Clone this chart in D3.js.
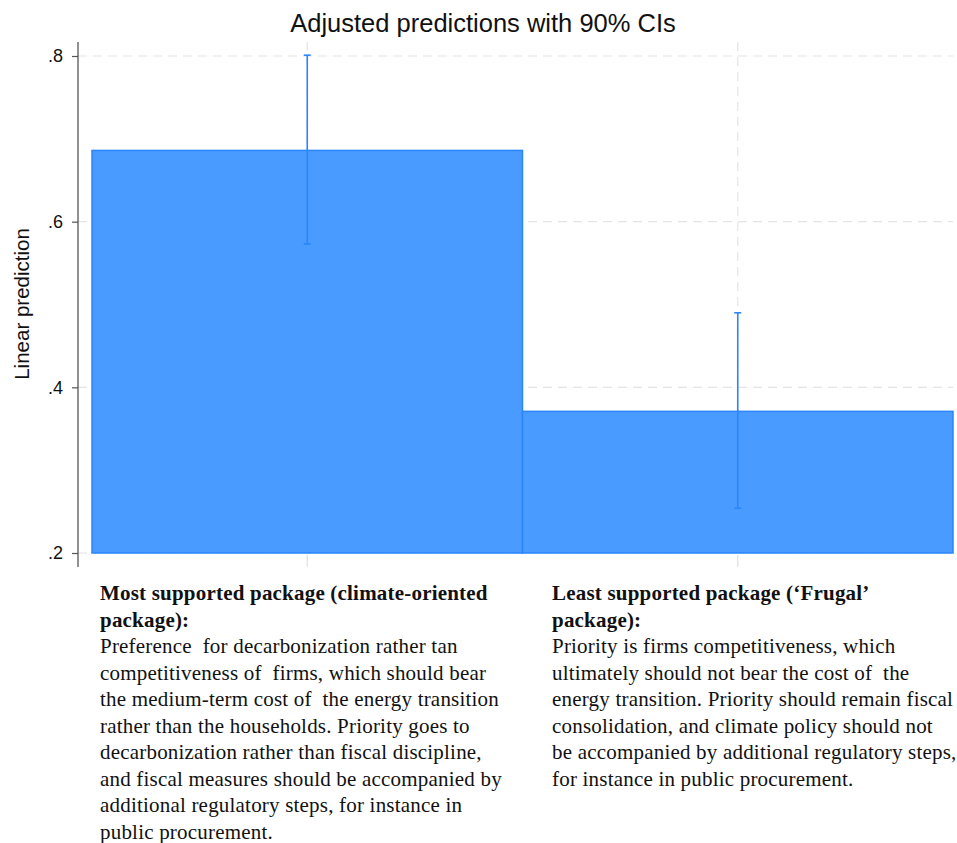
<!DOCTYPE html>
<html>
<head>
<meta charset="utf-8">
<script src="https://cdn.jsdelivr.net/npm/d3@7"></script>
<style>
  body { margin: 0; background: #fff; }
  svg { display: block; }
</style>
</head>
<body>
<svg width="957" height="843"></svg>
<script>
// chart values
var categories = ["Most supported package", "Least supported package"];
var predictions = [0.686, 0.371];
var ciLow = [0.573, 0.254];
var ciHigh = [0.801, 0.490];
var yTicks = [0.2, 0.4, 0.6, 0.8];
var yTickLabels = [".2", ".4", ".6", ".8"];

// description under each bar, broken as in the original
var headings = [
  ["Most supported package (climate-oriented", "package):"],
  ["Least supported package (\u2018Frugal\u2019", "package):"]
];
var bodies = [
  ["Preference  for decarbonization rather tan",
   "competitiveness of  firms, which should bear",
   "the medium-term cost of  the energy transition",
   "rather than the households. Priority goes to",
   "decarbonization rather than fiscal discipline,",
   "and fiscal measures should be accompanied by",
   "additional regulatory steps, for instance in",
   "public procurement."],
  ["Priority is firms competitiveness, which",
   "ultimately should not bear the cost of  the",
   "energy transition. Priority should remain fiscal",
   "consolidation, and climate policy should not",
   "be accompanied by additional regulatory steps,",
   "for instance in public procurement."]
];

var svg = d3.select("svg");
var plotLeft = 78, plotRight = 953, plotTop = 42, plotBottom = 567;

var x = d3.scaleBand().domain(categories).range([92, 953]).padding(0);
var y = d3.scaleLinear().domain([0.2, 0.8]).range([553, 56]);

var fillBlue = "#4a9bff", lineBlue = "#2a85ff", grid = "#e4e4e4";

// horizontal grid
svg.append("g").selectAll("line")
  .data(yTicks).enter().append("line")
    .attr("x1", plotLeft).attr("x2", plotRight)
    .attr("y1", function(d) { return y(d); })
    .attr("y2", function(d) { return y(d); })
    .attr("stroke", grid).attr("stroke-width", 1.2)
    .attr("stroke-dasharray", "9,6");

// vertical grid at bar centres
svg.append("g").selectAll("line")
  .data(categories).enter().append("line")
    .attr("x1", function(d) { return x(d) + x.bandwidth() / 2; })
    .attr("x2", function(d) { return x(d) + x.bandwidth() / 2; })
    .attr("y1", plotTop).attr("y2", y(0.2))
    .attr("stroke", grid).attr("stroke-width", 1.2)
    .attr("stroke-dasharray", "9,6");

// bars
svg.append("g").selectAll("rect")
  .data(predictions).enter().append("rect")
    .attr("x", function(d, i) { return x(categories[i]); })
    .attr("y", function(d) { return y(d); })
    .attr("width", x.bandwidth())
    .attr("height", function(d) { return y(0.2) - y(d); })
    .attr("fill", fillBlue)
    .attr("stroke", lineBlue).attr("stroke-width", 1.5);

// confidence intervals
var ci = svg.append("g").selectAll("g")
  .data(categories).enter().append("g")
    .attr("stroke", lineBlue).attr("stroke-width", 1.6);
ci.append("line")
  .attr("x1", function(d) { return x(d) + x.bandwidth() / 2; })
  .attr("x2", function(d) { return x(d) + x.bandwidth() / 2; })
  .attr("y1", function(d, i) { return y(ciHigh[i]); })
  .attr("y2", function(d, i) { return y(ciLow[i]); });
[ciHigh, ciLow].forEach(function(arr) {
  ci.append("line")
    .attr("x1", function(d) { return x(d) + x.bandwidth() / 2 - 3.5; })
    .attr("x2", function(d) { return x(d) + x.bandwidth() / 2 + 3.5; })
    .attr("y1", function(d, i) { return y(arr[i]); })
    .attr("y2", function(d, i) { return y(arr[i]); });
});

// x ticks (axis line itself is hidden)
svg.append("g").selectAll("line")
  .data(categories).enter().append("line")
    .attr("x1", function(d) { return x(d) + x.bandwidth() / 2; })
    .attr("x2", function(d) { return x(d) + x.bandwidth() / 2; })
    .attr("y1", 555).attr("y2", plotBottom)
    .attr("stroke", "#e0e0e0").attr("stroke-width", 1.2);

// y axis
var yAxis = d3.axisLeft(y)
  .tickValues(yTicks)
  .tickSize(6)
  .tickPadding(9)
  .tickFormat(function(d, i) { return yTickLabels[i]; });
var ag = svg.append("g").attr("transform", "translate(" + plotLeft + ",0)").call(yAxis);
ag.select(".domain").remove();
ag.selectAll(".tick line").attr("stroke", "#555").attr("stroke-width", 1.2);
ag.selectAll(".tick text")
  .attr("fill", "#111")
  .style("font-family", "'Liberation Sans', Arial, sans-serif")
  .style("font-size", "18px");
svg.append("line")
  .attr("x1", plotLeft).attr("x2", plotLeft)
  .attr("y1", plotTop).attr("y2", plotBottom)
  .attr("stroke", "#555").attr("stroke-width", 1.3);

// titles
svg.append("text")
  .attr("x", 483).attr("y", 32)
  .attr("text-anchor", "middle")
  .style("font-family", "'Liberation Sans', Arial, sans-serif")
  .style("font-size", "25.5px")
  .attr("fill", "#111")
  .text("Adjusted predictions with 90% CIs");

svg.append("text")
  .attr("transform", "translate(29,304) rotate(-90)")
  .attr("text-anchor", "middle")
  .style("font-family", "'Liberation Sans', Arial, sans-serif")
  .style("font-size", "20.5px")
  .attr("fill", "#111")
  .text("Linear prediction");

// descriptions
var colX = [100, 552];
var lineH = 26.5;
categories.forEach(function(c, i) {
  var t = svg.append("text")
    .style("font-family", "'Liberation Serif', 'Times New Roman', serif")
    .style("font-size", "21px")
    .style("letter-spacing", "0.2px")
    .attr("fill", "#111");
  var lines = headings[i].map(function(s) { return { s: s, b: true }; })
    .concat(bodies[i].map(function(s) { return { s: s, b: false }; }));
  t.selectAll("tspan").data(lines).enter().append("tspan")
    .attr("x", colX[i])
    .attr("y", function(d, j) { return 600 + j * lineH; })
    .style("font-weight", function(d) { return d.b ? "bold" : "normal"; })
    .style("white-space", "pre")
    .text(function(d) { return d.s; });
});
</script>
</body>
</html>
